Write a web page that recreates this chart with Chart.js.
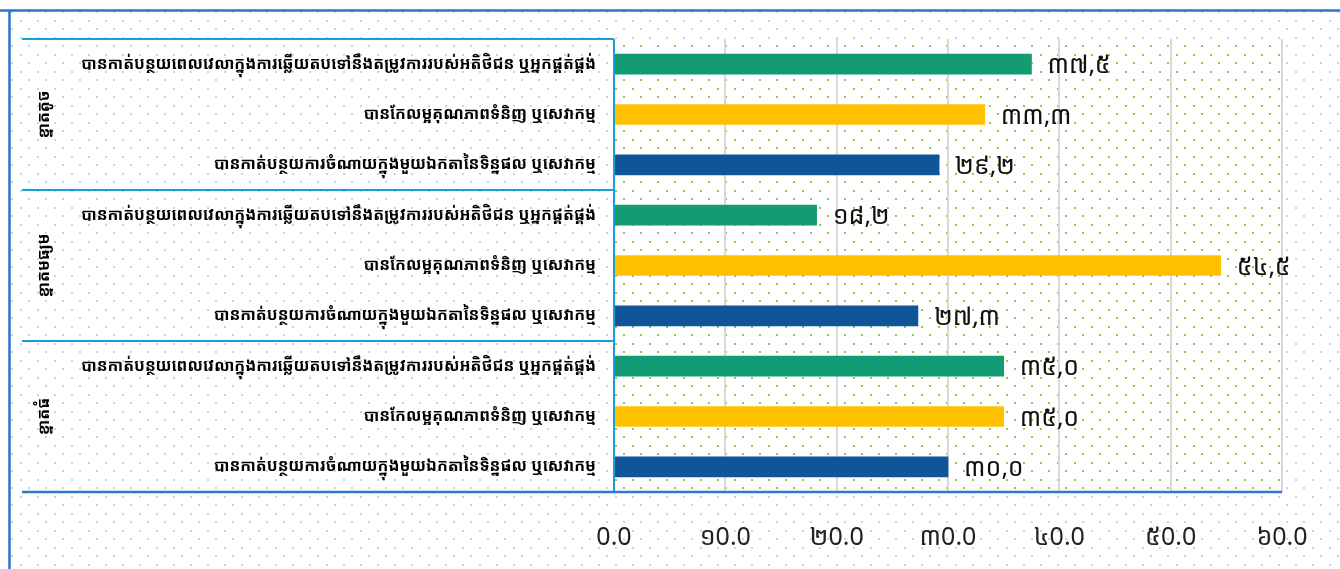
<!DOCTYPE html>
<html>
<head>
<meta charset="utf-8">
<script src="https://cdn.jsdelivr.net/npm/chart.js@4.4.1/dist/chart.umd.min.js"></script>
<style>
  html, body { margin: 0; padding: 0; background: #fff; }
  #wrap { position: relative; width: 1340px; height: 569px; }
</style>
</head>
<body>
<div id="wrap"><canvas id="chart" width="1340" height="569"></canvas></div>
<script>
// firm size groups, top to bottom
const groups = ['ខ្នាតតូច', 'ខ្នាតមធ្យម', 'ខ្នាតធំ'];

// outcome categories inside every group (top to bottom)
const outcomes = [
    'បានកាត់បន្ថយពេលវេលាក្នុងការឆ្លើយតបទៅនឹងតម្រូវការរបស់អតិថិជន ឬអ្នកផ្គត់ផ្គង់',
    'បានកែលម្អគុណភាពទំនិញ ឬសេវាកម្ម',
    'បានកាត់បន្ថយការចំណាយក្នុងមួយឯកតានៃទិន្នផល ឬសេវាកម្ម'
];

// percentages per group, same order as outcomes
const smallFirms = [37.5, 33.3, 29.2];
const mediumFirms = [18.2, 54.5, 27.3];
const largeFirms = [35.0, 35.0, 30.0];

const outcomeColors = ['#139c74', '#ffc000', '#0f5597'];

const xTickLabels = ['0.0', '១0.0', '២0.0', '៣0.0', '៤0.0', '៥0.0', '៦0.0'];

const khmerDigits = ['០', '១', '២', '៣', '៤', '៥', '៦', '៧', '៨', '៩'];
const toKhmer = (v) => v.toFixed(1).replace('.', ',').replace(/[0-9]/g, d => khmerDigits[+d]);

const FONT = "'Noto Sans Khmer', 'Khmer OS', 'Khmer OS System', 'Noto Sans', 'DejaVu Sans', sans-serif";

const values = [...smallFirms, ...mediumFirms, ...largeFirms];
const labels = groups.flatMap(() => outcomes);
const colors = groups.flatMap(() => outcomeColors);

function dotPattern(ctx, color) {
    const tile = document.createElement('canvas');
    tile.width = 17;
    tile.height = 17;
    const t = tile.getContext('2d');
    t.fillStyle = color;
    t.fillRect(3, 3, 2, 2);
    t.fillRect(11, 11, 2, 2);
    return ctx.createPattern(tile, 'repeat');
}

const backdrop = {
    id: 'backdrop',
    beforeDraw(chart) {
        const { ctx, chartArea: a } = chart;
        ctx.save();
        ctx.fillStyle = '#fff';
        ctx.fillRect(0, 0, chart.width, chart.height);
        ctx.fillStyle = dotPattern(ctx, '#bcd7f3');
        ctx.fillRect(10, 11, chart.width - 10, chart.height - 11);
        ctx.fillStyle = '#fff';
        ctx.fillRect(a.left, a.top, a.right - a.left, a.bottom - a.top);
        ctx.fillStyle = dotPattern(ctx, '#a3c24a');
        ctx.fillRect(a.left, a.top, a.right - a.left, a.bottom - a.top);
        // outer frame
        ctx.strokeStyle = '#2a74c9';
        ctx.lineWidth = 2.5;
        ctx.beginPath();
        ctx.moveTo(0, 10.5);
        ctx.lineTo(chart.width, 10.5);
        ctx.moveTo(9.5, 10.5);
        ctx.lineTo(9.5, chart.height);
        ctx.stroke();
        ctx.restore();
    }
};

const groupFrame = {
    id: 'groupFrame',
    afterDraw(chart) {
        const { ctx, chartArea: a, scales: { y } } = chart;
        const left = 22;
        const n = outcomes.length;
        ctx.save();
        ctx.strokeStyle = '#15a0dc';
        ctx.lineWidth = 2;
        ctx.beginPath();
        for (let g = 0; g < groups.length; g++) {
            const top = g === 0 ? a.top : (y.getPixelForValue(g * n - 1) + y.getPixelForValue(g * n)) / 2;
            ctx.moveTo(left, top);
            ctx.lineTo(a.left, top);
        }
        ctx.moveTo(a.left, a.top);
        ctx.lineTo(a.left, a.bottom);
        ctx.stroke();
        ctx.strokeStyle = '#2f78c8';
        ctx.lineWidth = 2.5;
        ctx.beginPath();
        ctx.moveTo(left, a.bottom);
        ctx.lineTo(a.right, a.bottom);
        ctx.stroke();

        // rotated group names
        ctx.fillStyle = '#000';
        ctx.font = 'bold 16px ' + FONT;
        ctx.textAlign = 'center';
        ctx.textBaseline = 'middle';
        groups.forEach((name, g) => {
            const cy = y.getPixelForValue(g * n + (n - 1) / 2);
            ctx.save();
            ctx.translate(44, cy);
            ctx.rotate(-Math.PI / 2);
            ctx.fillText(name, 0, 0);
            ctx.restore();
        });

        // value labels
        ctx.font = '25px ' + FONT;
        ctx.textAlign = 'left';
        ctx.fillStyle = '#111';
        const meta = chart.getDatasetMeta(0);
        meta.data.forEach((bar, i) => {
            ctx.fillText(toKhmer(values[i]), bar.x + 16, bar.y + 2);
        });
        ctx.restore();
    }
};

new Chart(document.getElementById('chart'), {
    type: 'bar',
    data: {
        labels: labels,
        datasets: [{
            data: values,
            backgroundColor: colors,
            barThickness: 20
        }]
    },
    options: {
        indexAxis: 'y',
        responsive: false,
        animation: false,
        layout: { padding: { left: 22, right: 58, top: 39, bottom: 0 } },
        plugins: {
            legend: { display: false },
            tooltip: { enabled: false }
        },
        scales: {
            x: {
                min: 0,
                max: 60,
                ticks: {
                    stepSize: 10,
                    padding: 31,
                    color: '#222',
                    font: { family: FONT, size: 25 },
                    callback: (v) => xTickLabels[v / 10]
                },
                grid: { color: '#d9d9d9', lineWidth: 2, drawTicks: false },
                border: { display: false },
                afterFit: (s) => { s.height = 77; }
            },
            y: {
                grid: { display: false, drawTicks: false },
                border: { display: false },
                ticks: {
                    autoSkip: false,
                    padding: 18,
                    color: '#000',
                    font: { family: FONT, size: 16, weight: 'bold' }
                },
                afterFit: (s) => { s.width = 592; }
            }
        }
    },
    plugins: [backdrop, groupFrame]
});
</script>
</body>
</html>
